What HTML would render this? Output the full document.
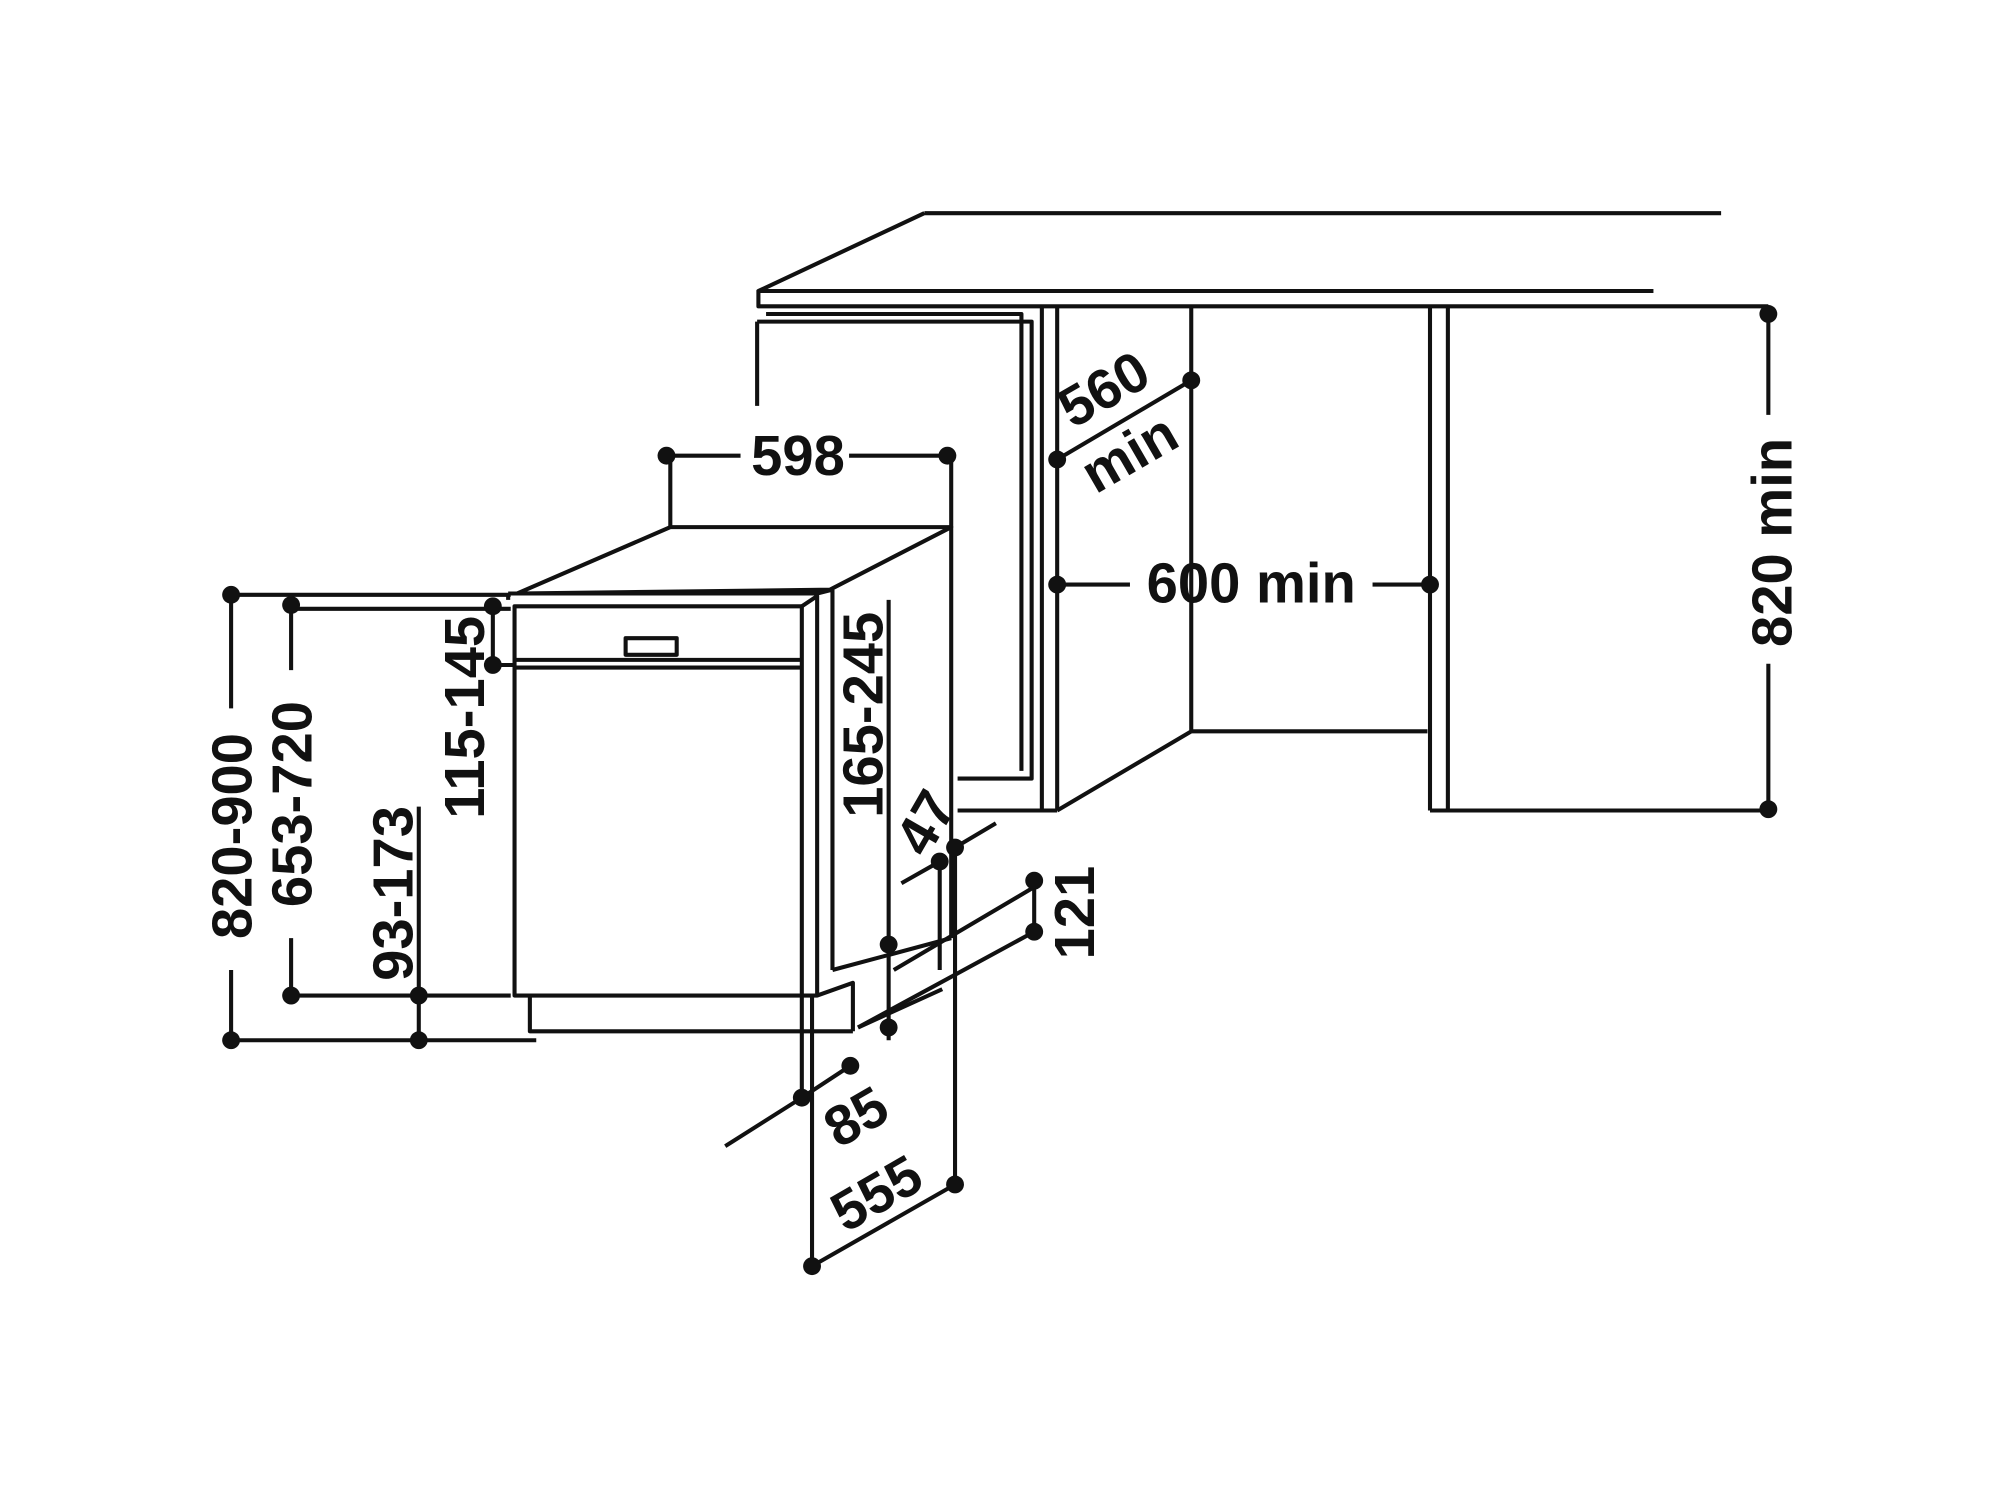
<!DOCTYPE html>
<html><head><meta charset="utf-8"><style>
html,body{margin:0;padding:0;background:#fff;width:2002px;height:1501px;overflow:hidden}
svg{display:block}
text{font-family:"Liberation Sans",sans-serif;font-weight:bold;font-size:44px;fill:#111}
</style></head><body>
<svg width="2002" height="1501" viewBox="0 0 1568 1176" preserveAspectRatio="none" xmlns="http://www.w3.org/2000/svg">
<g stroke="#111" stroke-width="3.2" fill="none" stroke-linejoin="round">
<path d="M724 167 L1348 167 M724 167 L594 228 L1295 228 M594 228 L594 240 L1385 240"/>
<path d="M593 252 L593 318 M593 252 L808 252 L808 610 L750 610 M600 246 L800 246 L800 258 M800 258 L800 604"/>
<path d="M816 240 L816 635 M828 240 L828 635 M750 635 L828 635"/>
<path d="M933 240 L933 573 L1118 573 M828 635 L933 573"/>
<path d="M1120 240 L1120 635 M1134 240 L1134 635 M1120 635 L1385 635"/>
<path d="M525 413 L745 413 L650 462 L405 465 Z"/>
<path d="M398 465 L640 465 L652 462 M398 465 L398 470"/>
<rect x="403" y="475" width="225" height="305"/>
<path d="M628 475 L640 467 L640 780 L628 780 M652 462 L652 760 M640 780 L668 770 L668 808 M745 413 L745 735"/>
<path d="M403 517 L628 517 M403 523 L628 523"/>
<rect x="490" y="500" width="40" height="13"/>
<path d="M415 780 L415 808 L668 808"/>
<path d="M652 760 L745 735 M672 805 L738 775"/>
<path d="M181 466 L181 555 M181 760 L181 815 M181 466 L400 466 M181 815 L420 815"/>
<path d="M228 474 L228 525 M228 735 L228 780 M228 477 L400 477 M228 780 L400 780"/>
<path d="M328 632 L328 815"/>
<path d="M386 475 L386 521 M386 521 L403 521"/>
<path d="M696 470 L696 815"/>
<path d="M525 357 L580 357 M665 357 L742 357 M525 357 L525 413 M745 357 L745 413"/>
<path d="M1385 246 L1385 325 M1385 520 L1385 634"/>
<path d="M828 458 L885 458 M1075 458 L1120 458"/>
<path d="M828 360 L933 298"/>
<path d="M748 664 L780 645 M736 675 L706 692 M736 675 L736 760 M748 664 L748 928"/>
<path d="M810 690 L810 730 M810 695 L700 760 M810 730 L672 805"/>
<path d="M628 860 L568 898 M628 780 L628 860 M666 835 L628 860 M636 780 L636 992 M748 928 L636 992"/>
</g>
<g fill="#111">
<circle cx="181" cy="466" r="7"/><circle cx="181" cy="815" r="7"/>
<circle cx="228" cy="474" r="7"/><circle cx="228" cy="780" r="7"/>
<circle cx="328" cy="780" r="7"/><circle cx="328" cy="815" r="7"/>
<circle cx="386" cy="475" r="7"/><circle cx="386" cy="521" r="7"/>
<circle cx="522" cy="357" r="7"/><circle cx="742" cy="357" r="7"/>
<circle cx="1385" cy="246" r="7"/><circle cx="1385" cy="634" r="7"/>
<circle cx="828" cy="458" r="7"/><circle cx="1120" cy="458" r="7"/>
<circle cx="933" cy="298" r="7"/><circle cx="828" cy="360" r="7"/>
<circle cx="696" cy="740" r="7"/><circle cx="696" cy="805" r="7"/>
<circle cx="748" cy="664" r="7"/><circle cx="736" cy="675" r="7"/>
<circle cx="810" cy="690" r="7"/><circle cx="810" cy="730" r="7"/>
<circle cx="628" cy="860" r="7"/><circle cx="666" cy="835" r="7"/>
<circle cx="748" cy="928" r="7"/><circle cx="636" cy="992" r="7"/>
</g>
<text x="625" y="372" text-anchor="middle">598</text>
<text x="980" y="472" text-anchor="middle">600 min</text>
<text transform="translate(1403 425) rotate(-90)" text-anchor="middle">820 min</text>
<text transform="translate(197 655) rotate(-90)" text-anchor="middle">820-900</text>
<text transform="translate(244 630) rotate(-90)" text-anchor="middle">653-720</text>
<text transform="translate(323 700) rotate(-90)" text-anchor="middle">93-173</text>
<text transform="translate(379 562) rotate(-90)" text-anchor="middle">115-145</text>
<text transform="translate(691 560) rotate(-90)" text-anchor="middle">165-245</text>
<text transform="translate(857 715) rotate(-90)" text-anchor="middle">121</text>
<text transform="translate(872 318) rotate(-30)" text-anchor="middle">560</text>
<text transform="translate(892 368) rotate(-30)" text-anchor="middle">min</text>
<text transform="translate(738 652) rotate(-60)" text-anchor="middle">47</text>
<text transform="translate(678 888) rotate(-30)" text-anchor="middle">85</text>
<text transform="translate(694 948) rotate(-30)" text-anchor="middle">555</text>
</svg>
</body></html>
